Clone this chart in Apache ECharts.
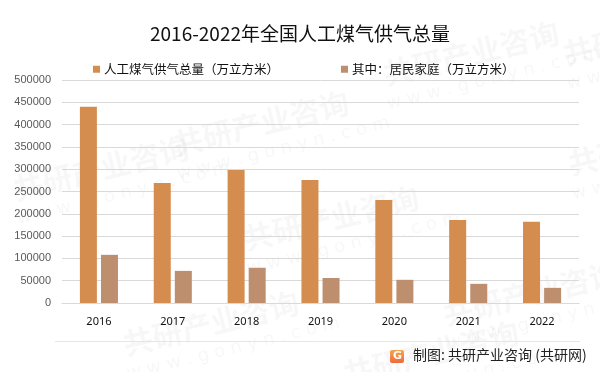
<!DOCTYPE html>
<html>
<head>
<meta charset="utf-8">
<script src="https://cdn.jsdelivr.net/npm/echarts@6/dist/echarts.min.js"></script>
<style>html,body{margin:0;padding:0;background:#fff;}#c{width:600px;height:372px;}</style>
</head>
<body>
<div id="c"></div>
<script>
const categories = ['2016', '2017', '2018', '2019', '2020', '2021', '2022'];
const totalSupply = [440000, 269000, 298000, 276000, 231000, 186000, 182000];
const householdSupply = [108000, 72000, 79000, 56000, 52000, 43000, 34000];
const seriesNames = ['人工煤气供气总量（万立方米）', '其中：居民家庭（万立方米）'];
const titleText = '2016-2022年全国人工煤气供气总量';
const sourceText = '制图: 共研产业咨询 (共研网)';

const chart = echarts.init(document.getElementById('c'), null, {renderer: 'canvas'});

const wm = [];
const wmPos = [[170,130],[380,60],[240,225],[120,330],[440,300],[565,150],[10,175],[560,40],[340,360]];
wmPos.forEach(p => {
  wm.push({type:'text', x:p[0], y:p[1], rotation: 0.24, silent:true, z:0,
    style:{text:'共研产业咨询', fill:'rgba(0,0,0,0.032)', font:'bold 30px "Noto Sans CJK SC"'}});
  wm.push({type:'text', x:p[0]+5, y:p[1]+36, rotation: 0.24, silent:true, z:0,
    style:{text:'w w w . g o n y n . c o m', fill:'rgba(0,0,0,0.032)', font:'18px "DejaVu Sans"'}});
});

chart.setOption({
  backgroundColor: '#fff',
  animation: false,
  title: {
    text: titleText, left: 'center', top: 19,
    textStyle: {fontFamily: '"Noto Sans CJK SC"', fontSize: 19, fontWeight: 'normal', color: '#111'}
  },
  legend: {
    data: seriesNames, left: 88, top: 58, itemWidth: 7, itemHeight: 7, itemGap: 62,
    icon: 'rect',
    textStyle: {fontFamily: '"Noto Sans CJK SC"', fontSize: 12.5, color: '#111', padding: [0,0,0,-1]}
  },
  grid: {left: 62, right: 21, top: 80, bottom: 69, containLabel: false},
  xAxis: {
    type: 'category', data: categories,
    axisLine: {lineStyle: {color: '#d9d9d9', width: 1}},
    axisTick: {show: false},
    axisLabel: {fontFamily: '"Noto Sans"', fontSize: 11, color: '#111', margin: 13}
  },
  yAxis: {
    type: 'value', min: 0, max: 500000, interval: 50000,
    axisLine: {show: false}, axisTick: {show: false},
    splitLine: {lineStyle: {color: '#d9d9d9', width: 1}},
    axisLabel: {fontFamily: '"Liberation Sans"', fontSize: 11, color: '#595959', margin: 11,
      formatter: v => String(v)}
  },
  series: [
    {name: seriesNames[0], type: 'bar', data: totalSupply, barWidth: 17, barGap: '24%',
     itemStyle: {color: '#D48C4F'}},
    {name: seriesNames[1], type: 'bar', data: householdSupply, barWidth: 17,
     itemStyle: {color: '#BD8F6E'}}
  ],
  graphic: wm.concat([
    {type:'line', shape:{x1:55, y1:341.5, x2:580, y2:341.5}, style:{stroke:'#e6e6e6', lineWidth:1}, silent:true},
    {type:'rect', shape:{x:390, y:350, width:14, height:13, r:2},
     style:{fill: new echarts.graphic.LinearGradient(0,0,0,1,[{offset:0,color:'#f7a64f'},{offset:1,color:'#ec6a3c'}])}},
    {type:'text', x:393, y:351, style:{text:'G', fill:'#fff', font:'bold 11px "DejaVu Sans"'}},
    {type:'text', x:413, y:348, style:{text: sourceText, fill:'#222', font:'14px "Noto Sans CJK SC"'}}
  ])
});
</script>
</body>
</html>
